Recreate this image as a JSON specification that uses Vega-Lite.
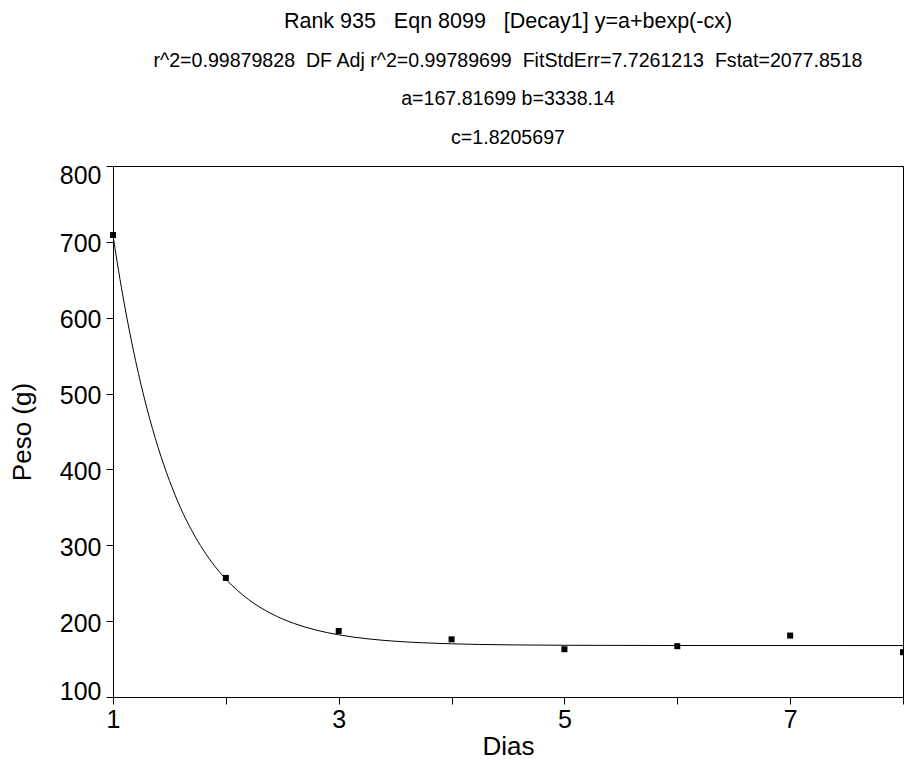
{
  "$schema": "https://vega.github.io/schema/vega-lite/v6.json",
  "width": 790,
  "height": 531,
  "autosize": {"type": "none"},
  "padding": {"left": 113, "top": 166, "right": 1, "bottom": 63},
  "background": "white",
  "config": {
    "font": "Liberation Sans",
    "view": {"stroke": "black", "strokeWidth": 1}
  },
  "title": {
    "text": "Rank 935\u00a0\u00a0 Eqn 8099\u00a0\u00a0 [Decay1] y=a+bexp(-cx)",
    "subtitle": [
      "r^2=0.99879828\u00a0 DF Adj r^2=0.99789699\u00a0 FitStdErr=7.7261213\u00a0 Fstat=2077.8518",
      "a=167.81699 b=3338.14",
      "c=1.8205697"
    ],
    "font": "Liberation Sans",
    "fontSize": 21.5,
    "fontWeight": "normal",
    "color": "black",
    "lineHeight": 21.5,
    "subtitleFont": "Liberation Sans",
    "subtitleFontSize": 19.6,
    "subtitleColor": "black",
    "subtitleLineHeight": 38.7,
    "subtitlePadding": 18.7,
    "offset": 15.5,
    "anchor": "middle"
  },
  "datasets": {
    "points": [
      {"dias": 1, "peso": 709},
      {"dias": 2, "peso": 257},
      {"dias": 3, "peso": 187},
      {"dias": 4, "peso": 176},
      {"dias": 5, "peso": 163},
      {"dias": 6, "peso": 167},
      {"dias": 7, "peso": 181},
      {"dias": 8, "peso": 159}
    ],
    "curve": [
      {"dias": 1.0, "peso": 708.38},
      {"dias": 1.05, "peso": 661.34},
      {"dias": 1.1, "peso": 618.40},
      {"dias": 1.2, "peso": 543.40},
      {"dias": 1.3, "peso": 480.87},
      {"dias": 1.4, "peso": 428.78},
      {"dias": 1.5, "peso": 385.34},
      {"dias": 1.6, "peso": 348.74},
      {"dias": 1.7, "peso": 318.95},
      {"dias": 1.8, "peso": 293.80},
      {"dias": 1.9, "peso": 272.83},
      {"dias": 2.0, "peso": 255.35},
      {"dias": 2.2, "peso": 228.64},
      {"dias": 2.4, "peso": 210.07},
      {"dias": 2.6, "peso": 197.18},
      {"dias": 2.8, "peso": 188.22},
      {"dias": 3.0, "peso": 181.99},
      {"dias": 3.25, "peso": 176.79},
      {"dias": 3.5, "peso": 173.52},
      {"dias": 3.75, "peso": 171.44},
      {"dias": 4.0, "peso": 170.11},
      {"dias": 4.5, "peso": 168.74},
      {"dias": 5.0, "peso": 168.19},
      {"dias": 6.0, "peso": 167.88},
      {"dias": 7.0, "peso": 167.83},
      {"dias": 8.0, "peso": 167.82}
    ]
  },
  "encoding": {
    "x": {
      "field": "dias",
      "type": "quantitative",
      "scale": {"domain": [1, 8], "nice": false, "zero": false},
      "axis": {
        "title": "Dias",
        "values": [1, 2, 3, 4, 5, 6, 7, 8],
        "labelExpr": "datum.value % 2 == 1 ? datum.label : ''",
        "grid": false,
        "domainColor": "black",
        "tickColor": "black",
        "tickSize": 7,
        "labelFontSize": 25,
        "labelColor": "black",
        "labelPadding": 3,
        "labelFlush": false,
        "labelOverlap": false,
        "titleFontSize": 26,
        "titleFontWeight": "normal",
        "titleColor": "black",
        "titlePadding": 1
      }
    },
    "y": {
      "field": "peso",
      "type": "quantitative",
      "scale": {"domain": [100, 800], "nice": false, "zero": false},
      "axis": {
        "title": "Peso (g)",
        "values": [100, 200, 300, 400, 500, 600, 700, 800],
        "grid": false,
        "domainColor": "black",
        "tickColor": "black",
        "tickSize": 7,
        "labelFontSize": 25,
        "labelColor": "black",
        "labelPadding": 5,
        "labelFlush": false,
        "labelOverlap": false,
        "labelOffset": {
          "condition": [
            {"test": "datum.value == 800", "value": 9},
            {"test": "datum.value == 100", "value": -6}
          ],
          "value": 2
        },
        "titleFontSize": 26,
        "titleFontWeight": "normal",
        "titleColor": "black",
        "titlePadding": 24
      }
    }
  },
  "layer": [
    {
      "data": {"name": "curve"},
      "mark": {"type": "line", "color": "black", "strokeWidth": 1, "interpolate": "monotone", "clip": true}
    },
    {
      "data": {"name": "points"},
      "mark": {"type": "square", "filled": true, "color": "black", "opacity": 1, "size": 36}
    }
  ]
}
